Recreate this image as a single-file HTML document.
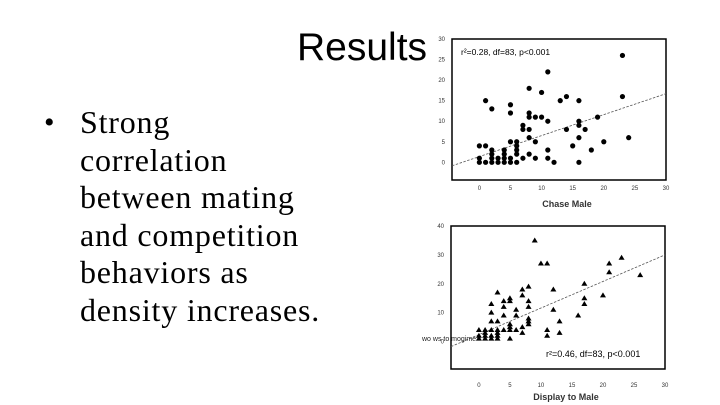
<!DOCTYPE html>
<html><head><meta charset="utf-8"><style>
body{margin:0;background:#fff;}
#wrap{position:relative;width:720px;height:405px;overflow:hidden;background:#fff;}
.title{position:absolute;left:297px;top:22px;font:39px "Liberation Sans",sans-serif;color:#000;line-height:52px;}
.bul{position:absolute;left:80px;top:104px;font:32px "Liberation Serif",serif;letter-spacing:0.8px;line-height:37.5px;color:#000;}
.dot{position:absolute;left:44px;top:104px;font:30px "Liberation Serif",serif;line-height:37.5px;}
svg{position:absolute;left:0;top:0;}
</style></head><body>
<div id="wrap">
<div class="title">Results</div>
<div class="dot">•</div>
<div class="bul">Strong<br>correlation<br>between mating<br>and competition<br>behaviors as<br>density increases.</div>
<svg id="svg" width="720" height="405"></svg>
</div>
<script>
const chaseX=[0,0,0,1,1,1,2,2,2,2,2,3,3,4,4,4,4,5,5,5,5,5,6,6,6,6,6,7,7,7,8,8,8,8,8,8,9,9,9,10,10,11,11,11,11,12,13,14,14,15,16,16,16,16,16,17,18,19,20,23,23,24];
const chaseY=[4,1,0,15,4,0,13,3,2,1,0,1,0,3,2,1,0,14,12,5,1,0,5,4,3,2,0,9,8,1,18,12,11,8,6,2,11,5,1,17,11,22,10,3,1,0,15,16,8,4,15,10,9,6,0,8,3,11,5,26,16,6];
const chaseLine=[1.4,0.51];
const chaseXTicks=[0,5,10,15,20,25,30];
const chaseYTicks=[0,5,10,15,20,25,30];
const dispX=[0,0,0,1,1,1,1,2,2,2,2,2,2,3,3,3,3,3,3,4,4,4,4,5,5,5,5,5,5,6,6,6,7,7,7,7,8,8,8,8,8,8,9,10,11,11,11,12,12,13,13,16,17,17,17,20,21,21,23,26];
const dispY=[4,2,1,4,3,2,1,13,10,7,4,2,1,17,7,4,3,2,1,14,12,9,4,15,14,6,5,4,1,11,9,4,18,16,5,3,19,14,12,8,7,6,35,27,27,4,2,18,11,7,3,9,20,15,13,16,27,24,29,23];
const dispLine=[2.4,0.92];
const dispXTicks=[0,5,10,15,20,25,30];
const dispYTicks=[0,10,20,30,40];
const NS='http://www.w3.org/2000/svg';
const svg=document.getElementById('svg');
function mk(t,a,p){const e=document.createElementNS(NS,t);for(const k in a)e.setAttribute(k,a[k]);(p||svg).appendChild(e);return e;}
function chart(o){
 const g=mk('g',{});
 
 
 const sx=v=>o.x0+(v-o.xmin)*(o.x1-o.x0)/(o.xmax-o.xmin);
 const sy=v=>o.y1-(v-o.ymin)*(o.y1-o.y0)/(o.ymax-o.ymin);
 const box=mk('rect',{x:o.x0,y:o.y0,width:o.x1-o.x0,height:o.y1-o.y0,fill:'none',stroke:'#000','stroke-width':1.5},g);
 
 
 o.xt.forEach(v=>{const t=mk('text',{x:sx(v),y:o.y1+o.tk,'font-size':6,'text-anchor':'middle','font-family':'Liberation Sans, sans-serif',fill:'#333'},g);t.textContent=v;
  
  });
 o.yt.forEach(v=>{const t=mk('text',{x:o.x0-7,y:sy(v)+2,'font-size':6,'text-anchor':'end','font-family':'Liberation Sans, sans-serif',fill:'#333'},g);t.textContent=v;
  
  });
 const xt=mk('text',{x:(o.x0+o.x1)/2+8,y:o.y1+o.tt,'font-size':9,'font-weight':'bold','text-anchor':'middle','font-family':'Liberation Sans, sans-serif',fill:'#333'},g);xt.textContent=o.title;
 
 
 const ln=mk('line',{x1:o.x0,y1:sy(o.line[0]+o.line[1]*o.xmin),x2:o.x1,y2:sy(o.line[0]+o.line[1]*o.xmax),stroke:'#555','stroke-width':0.8,'stroke-dasharray':'2.5,1.5'},g);
 
 
 o.xs.forEach((x,i)=>{const cx=sx(x),cy=sy(o.ys[i]);let m;
  if(o.tri)m=mk('polygon',{points:`${cx},${cy-3} ${cx-3},${cy+2} ${cx+3},${cy+2}`,fill:'#000'},g);
  else m=mk('circle',{cx:cx,cy:cy,r:2.6,fill:'#000'},g);
  
  });
 const st=mk('text',{x:o.sx,y:o.sy,'font-size':o.sf,'font-family':'Liberation Sans, sans-serif',fill:'#000'},g);
 st.textContent=o.stat;
 
 
}
chart({name:'chase-male-chart',x0:452,x1:666,y0:39,y1:180,xmin:-4.4,xmax:30,ymin:-4.3,ymax:30,xt:chaseXTicks,yt:chaseYTicks,title:'Chase Male',line:chaseLine,xs:chaseX,ys:chaseY,tri:false,stat:'r²=0.28, df=83, p<0.001',sx:461,sy:55,sf:8.5,tk:10,tt:27});
chart({name:'display-to-male-chart',x0:451,x1:665,y0:226,y1:369,xmin:-4.5,xmax:30,ymin:-9.5,ymax:40,xt:dispXTicks,yt:dispYTicks,title:'Display to Male',line:dispLine,xs:dispX,ys:dispY,tri:true,stat:'r²=0.46, df=83, p<0.001',sx:546,sy:357,sf:9,tk:18,tt:31});
const w=mk('text',{x:422,y:341,'font-size':7,'font-family':'Liberation Sans, sans-serif',fill:'#222'});
w.textContent='wo ws to mogime';


</script>
</body></html>
